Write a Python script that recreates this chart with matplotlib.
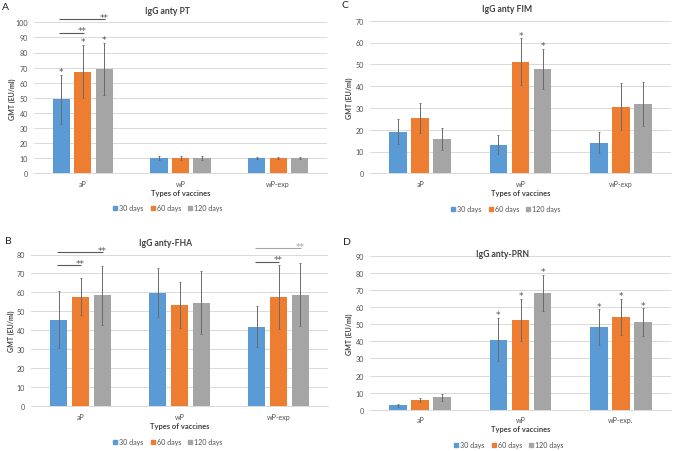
import matplotlib
matplotlib.use('Agg')
import matplotlib.pyplot as plt
from matplotlib.patches import Patch
import numpy as np

plt.rcParams['font.family'] = ['Lato', 'DejaVu Sans']

series = ['30 days', '60 days', '120 days']
colors = ['#5B9BD5', '#ED7D31', '#A5A5A5']
vaccines = ['aP', 'wP', 'wP-exp']
vaccines_prn = ['aP', 'wP', 'wP-exp.']

# A - IgG anty PT  (mean, lower, upper) per series, groups aP / wP / wP-exp
pt_mean = [[49.0, 10.1, 10.0], [67.3, 10.0, 10.0], [69.1, 10.0, 10.0]]
pt_lo = [[32.9, 8.5, 9.5], [49.7, 8.5, 9.5], [51.7, 8.5, 9.5]]
pt_hi = [[64.9, 11.7, 10.5], [85.0, 11.5, 10.5], [86.3, 11.5, 10.5]]
pt_stars = [(0, 0), (0, 1), (0, 2)]
pt_brackets = [(0, 1, 93.2, '#595959'), (0, 2, 102.0, '#595959')]

# C - IgG anty FIM
fim_mean = [[19.1, 13.0, 13.9], [25.4, 51.1, 30.4], [15.7, 47.9, 31.8]]
fim_lo = [[13.3, 8.7, 9.3], [18.3, 40.4, 19.7], [10.5, 38.5, 21.9]]
fim_hi = [[25.1, 17.4, 18.8], [32.1, 61.9, 41.4], [20.6, 56.9, 41.7]]
fim_stars = [(1, 1), (1, 2)]
fim_brackets = []

# B - IgG anty-FHA
fha_mean = [[45.6, 59.9, 41.9], [57.6, 53.5, 57.7], [58.6, 54.6, 58.8]]
fha_lo = [[30.6, 46.8, 31.0], [47.9, 41.5, 41.0], [43.0, 37.9, 42.3]]
fha_hi = [[60.7, 72.9, 52.8], [67.6, 65.5, 74.6], [74.1, 71.3, 75.5]]
fha_stars = []
fha_brackets = [(0, 1, 74.3, '#595959'), (0, 2, 81.3, '#595959'),
                (2, 1, 76.3, '#595959'), (2, 2, 83.5, '#A6A6A6')]

# D - IgG anty-PRN
prn_mean = [[2.5, 41.0, 48.2], [5.7, 52.7, 54.0], [7.2, 68.3, 51.1]]
prn_lo = [[1.8, 28.7, 38.0], [4.7, 40.4, 43.9], [5.3, 58.0, 42.9]]
prn_hi = [[3.5, 53.5, 58.7], [6.8, 64.8, 64.6], [9.0, 79.0, 59.3]]
prn_stars = [(1, 0), (1, 1), (1, 2), (2, 0), (2, 1), (2, 2)]
prn_brackets = []

W, H = 673, 452
fig = plt.figure(figsize=(W / 100, H / 100), dpi=100)

grid_c = '#D9D9D9'
txt_c = '#505050'
err_c = '#6A6A6A'
step = 0.22
bw = 0.175


def panel(box, ymax, title, letter, title_xy, letter_xy, legend_xy, ylab_x,
          cats, mean, lo, hi, stars, brackets):
    l, t, r, b = box
    ax = fig.add_axes([l / W, 1 - b / H, (r - l) / W, (b - t) / H])
    x = np.arange(len(cats))
    for i in range(3):
        xi = x + (i - 1) * step
        m = np.array(mean[i])
        ax.bar(xi, m, bw, color=colors[i], zorder=2)
        ax.errorbar(xi, m, yerr=[m - np.array(lo[i]), np.array(hi[i]) - m],
                    fmt='none', ecolor=err_c, elinewidth=0.7, capsize=1.0,
                    capthick=0.6, zorder=3)
    for g, i in stars:
        ax.annotate('*', (g + (i - 1) * step, hi[i][g]), xytext=(0, 0.6),
                    textcoords='offset points', ha='center', va='baseline',
                    fontsize=6.5, family='DejaVu Sans', color=txt_c,
                    annotation_clip=False)
    for g, i, yb, c in brackets:
        x0 = g - step - 0.02
        x1 = g + (i - 1) * step + 0.01
        ax.plot([x0, x1], [yb, yb], color=c, lw=0.8, clip_on=False,
                solid_capstyle='butt')
        ax.annotate('**', (x1, yb), xytext=(-1, -0.6), textcoords='offset points',
                    ha='center', va='baseline', fontsize=6.5, family='DejaVu Sans',
                    color=c, annotation_clip=False)
    ax.set_xlim(-0.5, len(cats) - 0.5)
    ax.set_ylim(0, ymax)
    ax.set_yticks(np.arange(0, ymax + 1, 10))
    ax.set_xticks(x)
    ax.set_xticklabels(cats)
    ax.tick_params(length=0, labelsize=5.1, colors=txt_c)
    ax.tick_params(axis='y', pad=4.2)
    ax.tick_params(axis='x', pad=4.6)
    ax.grid(axis='y', color=grid_c, lw=0.7, zorder=0)
    ax.set_axisbelow(True)
    for s in ['top', 'right', 'left']:
        ax.spines[s].set_visible(False)
    ax.spines['bottom'].set_color(grid_c)
    ax.spines['bottom'].set_linewidth(0.7)
    ax.set_xlabel('Types of vaccines', fontsize=5.4, fontweight='bold',
                  color='#404040', va='center')
    ax.xaxis.set_label_coords(0.5, -19 / (b - t))
    fig.text(ylab_x / W, 1 - (t + b) / 2 / H, 'GMT (EU/ml)', rotation=90,
             fontsize=5.0, fontweight='bold', color='#404040',
             ha='center', va='center')
    fig.text(title_xy[0] / W, 1 - title_xy[1] / H, title, fontsize=6.2,
             fontweight='bold', color='#404040', ha='center', va='center')
    fig.text(letter_xy[0] / W, 1 - letter_xy[1] / H, letter, fontsize=7.5,
             color='#202020', ha='left', va='center')
    handles = [Patch(color=c) for c in colors]
    fig.legend(handles, series, loc='center',
               bbox_to_anchor=(legend_xy[0] / W, 1 - legend_xy[1] / H),
               ncol=3, frameon=False, fontsize=5.1, handlelength=0.55,
               handleheight=0.55, columnspacing=1.0, handletextpad=0.3,
               labelcolor=txt_c)
    return ax


panel((34, 23.3, 327, 174.3), 100, 'IgG anty PT', 'A', (167, 11), (2, 7.5),
      (168, 209), 12, vaccines, pt_mean, pt_lo, pt_hi, pt_stars, pt_brackets)
panel((370, 21.7, 671, 174.3), 70, 'IgG anty FIM', 'C', (507, 9.3), (341, 5.5),
      (506, 210), 349.3, vaccines, fim_mean, fim_lo, fim_hi, fim_stars, fim_brackets)
panel((31, 255.5, 328, 407.3), 80, 'IgG anty-FHA', 'B', (165.5, 243.3), (5, 242),
      (168, 443), 11.7, vaccines, fha_mean, fha_lo, fha_hi, fha_stars, fha_brackets)
panel((370, 256.9, 671, 410.7), 90, 'IgG anty-PRN', 'D', (503, 254.3), (343, 242.5),
      (509, 446), 349, vaccines_prn, prn_mean, prn_lo, prn_hi, prn_stars, prn_brackets)

fig.savefig('out.png', dpi=100)
